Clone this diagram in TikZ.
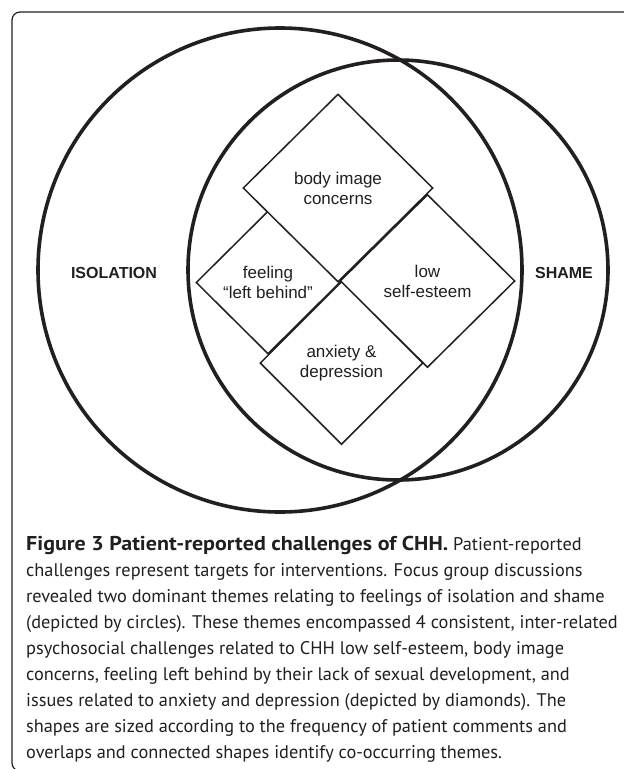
\documentclass[tikz,border=0pt]{standalone}
\usepackage{fontspec}
\setmainfont{Liberation Sans}
\newfontfamily\capfont{PT Sans}
\newfontfamily\captitlefont[FakeStretch=1.1]{PT Sans}
\usetikzlibrary{shapes.geometric}
\definecolor{ink}{HTML}{231F20}
\tikzset{
  themecircle/.style={circle, draw=ink, line width=3.6pt, inner sep=0pt},
  challenge/.style={diamond, draw=ink, fill=white, line width=1.5pt, inner sep=0pt,
    align=center, text=ink, font=\fontsize{17}{20}\selectfont},
  themelabel/.style={text=ink, font=\fontsize{16}{18}\selectfont\bfseries, inner sep=0pt},
  frameline/.style={draw=ink, line width=1.2pt, rounded corners=8pt},
}
\begin{document}
\begin{tikzpicture}[x=1pt,y=-1pt]
\useasboundingbox[fill=white] (0,0) rectangle (624,769);
\coordinate (ftr) at (640,12);
\coordinate (ftl) at (12,12);
\coordinate (fbl) at (12,771);
\coordinate (fbr) at (640,771);
\draw[frameline] (ftr) -- (ftl) -- (fbl) -- (fbr);
\node[themecircle, minimum size=484pt] (iso) at (280,270) {};
\node[themecircle, minimum size=420pt] (shame) at (398,270) {};
\node[themelabel] (isolab) at (114,273) {ISOLATION};
\node[themelabel] (shamelab) at (564,273) {SHAME};
\node[challenge, minimum width=144pt, minimum height=143pt] (feel) at (268,282.5) {feeling\\“left behind”};
\node[challenge, minimum width=175pt, minimum height=173pt] (low) at (427.5,281) {low\\self-esteem};
\node[challenge, minimum width=190pt, minimum height=188pt] (body) at (338,188) {body image\\concerns};
\node[challenge, minimum width=163pt, minimum height=163pt] (anx) at (341.5,363) {anxiety \&\\depression};
\node[anchor=north west, inner sep=0pt, align=left, text=ink,
  font=\capfont\fontsize{18.3}{26}\selectfont] (cap) at (26,536) {%
{\captitlefont\fontsize{20}{26}\selectfont\bfseries Figure 3 Patient-reported challenges of CHH.} Patient-reported\\
challenges represent targets for interventions. Focus group discussions\\
revealed two dominant themes relating to feelings of isolation and shame\\
(depicted by circles). These themes encompassed 4 consistent, inter-related\\
psychosocial challenges related to CHH low self-esteem, body image\\
concerns, feeling left behind by their lack of sexual development, and\\
issues related to anxiety and depression (depicted by diamonds). The\\
shapes are sized according to the frequency of patient comments and\\
overlaps and connected shapes identify co-occurring themes.};
\end{tikzpicture}
\end{document}
